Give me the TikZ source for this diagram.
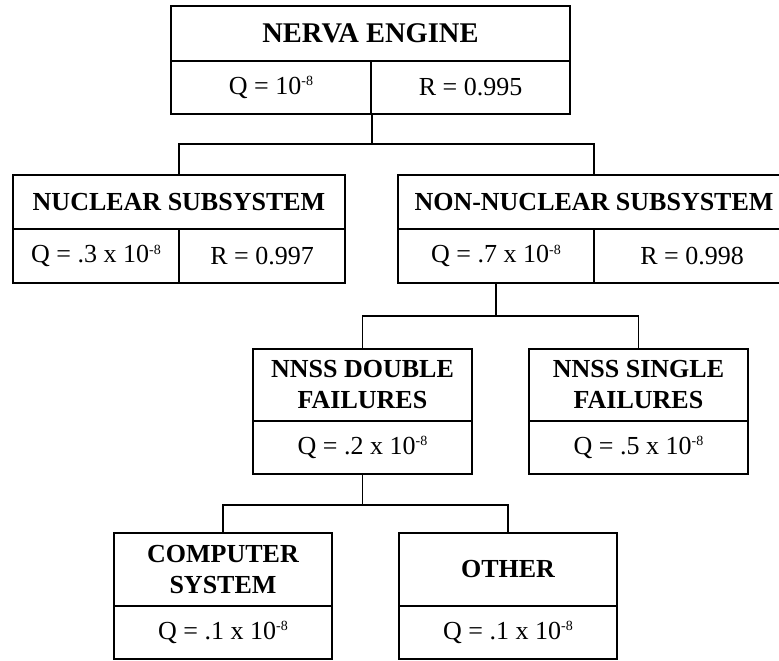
\documentclass[tikz,border=0pt]{standalone}
\usepackage{fontspec}
\setmainfont{Liberation Serif}
\newcommand\expo[1]{\raisebox{8.5pt}{\fontsize{14}{14}\selectfont #1}}
\begin{document}
\begin{tikzpicture}[x=1pt,y=-1pt,
  cell/.style={draw, line width=2.4pt, inner sep=0pt, align=center,
    minimum width=#1, font=\fontsize{26}{31}\selectfont},
  head/.style={cell=#1, font=\fontsize{26}{31}\selectfont\bfseries},
  link/.style={line width=1.6pt}]
\useasboundingbox (0,0) rectangle (779,661);
\begin{scope}
\clip (0,0) rectangle (779,661);

% top level
\node[head=399pt, minimum height=55pt, font=\fontsize{28.5}{31}\selectfont\bfseries] (nerva) at (370.5,33.5) {NERVA ENGINE};
\node[cell=200pt, minimum height=53pt] (nervaQ) at (271,87.5) {Q = 10\expo{-8}};
\node[cell=199pt, minimum height=53pt] (nervaR) at (470.5,87.5) {R = 0.995};

% subsystems
\node[head=332pt, minimum height=54pt] (nuc) at (179,202) {NUCLEAR SUBSYSTEM};
\node[cell=166pt, minimum height=54pt] (nucQ) at (96,256) {Q = .3 x 10\expo{-8}};
\node[cell=166pt, minimum height=54pt] (nucR) at (262,256) {R = 0.997};

\node[head=392pt, minimum height=54pt] (non) at (594,202) {NON-NUCLEAR SUBSYSTEM};
\node[cell=196pt, minimum height=54pt] (nonQ) at (496,256) {Q = .7 x 10\expo{-8}};
\node[cell=196pt, minimum height=54pt] (nonR) at (692,256) {R = 0.998};

% non-nuclear breakdown
\node[head=219pt, minimum height=72pt] (dbl) at (362.5,385) {NNSS DOUBLE\\FAILURES};
\node[cell=219pt, minimum height=53pt] (dblQ) at (362.5,447.5) {Q = .2 x 10\expo{-8}};

\node[head=219pt, minimum height=72pt] (sgl) at (638.5,385) {NNSS SINGLE\\FAILURES};
\node[cell=219pt, minimum height=53pt] (sglQ) at (638.5,447.5) {Q = .5 x 10\expo{-8}};

% double-failure breakdown
\node[head=218pt, minimum height=73pt] (cmp) at (223,569.5) {COMPUTER\\SYSTEM};
\node[cell=218pt, minimum height=53pt] (cmpQ) at (223,632.5) {Q = .1 x 10\expo{-8}};

\node[head=218pt, minimum height=73pt] (oth) at (508,569.5) {OTHER};
\node[cell=218pt, minimum height=53pt] (othQ) at (508,632.5) {Q = .1 x 10\expo{-8}};

% connectors
\draw[link] (nervaQ.south east) -- ++(0,29) -| (nuc.north);
\draw[link] (nervaQ.south east) -- ++(0,29) -| (non.north);
\draw[link] (nonQ.south) -- ++(0,32) -| (dbl.north);
\draw[link] (nonQ.south) -- ++(0,32) -| (sgl.north);
\draw[link] (dblQ.south) -- ++(0,30) -| (cmp.north);
\draw[link] (dblQ.south) -- ++(0,30) -| (oth.north);
\end{scope}
\end{tikzpicture}
\end{document}
